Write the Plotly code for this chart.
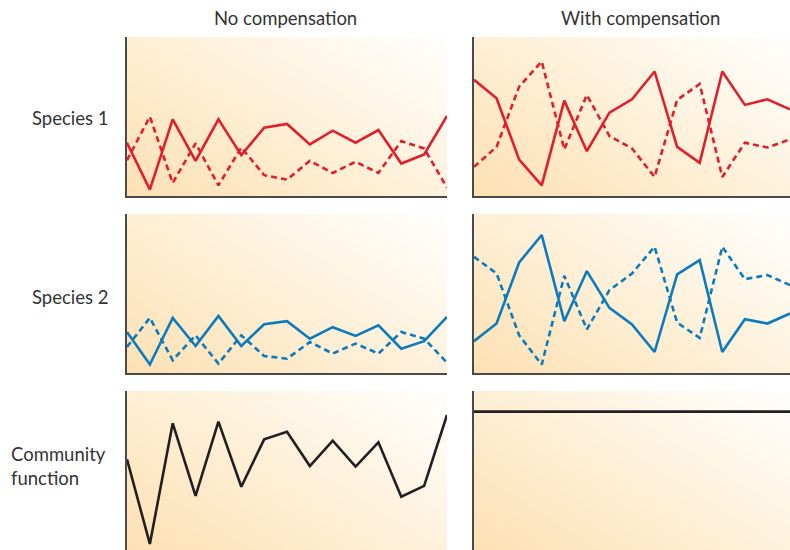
import numpy as np
import plotly.graph_objects as go

steps = list(range(15))

# Values on a 0-100 scale (0 = panel bottom, 100 = panel top)
sp1_nocomp_a = [33.5, 4.0, 48.2, 22.1, 48.2, 25.7, 42.9, 45.3, 32.4, 41.1, 33.5, 41.5, 20.4, 26.1, 50.3]
sp1_nocomp_b = [22.5, 49.9, 8.2, 33.1, 6.7, 30.5, 13.1, 10.3, 22.1, 14.5, 21.5, 14.5, 34.5, 29.9, 5.3]
sp1_comp_a = [73.1, 61.5, 22.9, 6.7, 60.0, 28.2, 52.4, 60.8, 78.3, 30.9, 20.8, 78.3, 57.3, 60.8, 54.5]
sp1_comp_b = [18.3, 30.9, 68.8, 84.6, 29.3, 63.6, 37.7, 29.9, 12.0, 60.4, 70.5, 12.0, 33.5, 30.5, 35.6]

sp2_nocomp_a = [25.8, 5.3, 34.7, 17.0, 35.9, 17.0, 30.7, 32.6, 21.6, 28.8, 23.3, 30.0, 15.3, 20.0, 35.3]
sp2_nocomp_b = [16.4, 34.7, 8.0, 23.7, 5.9, 23.7, 10.7, 9.0, 19.5, 12.2, 18.5, 12.2, 25.8, 21.6, 6.5]
sp2_comp_a = [20.0, 31.1, 69.5, 86.8, 32.6, 64.1, 41.0, 30.5, 13.2, 62.0, 71.0, 13.2, 33.8, 31.1, 37.4]
sp2_comp_b = [73.1, 62.6, 23.7, 5.3, 61.1, 27.5, 52.1, 62.6, 79.4, 31.7, 22.1, 79.4, 59.0, 61.6, 55.3]

community_nocomp = [57.0, 3.8, 79.7, 34.0, 80.7, 39.8, 69.6, 74.4, 52.8, 68.8, 52.4, 67.7, 33.5, 40.3, 84.9]
community_comp = [87.0] * 15

col_titles = ["No compensation", "With compensation"]
row_titles = ["Species 1", "Species 2", "Community<br>function"]

RED = "#E01F2C"
BLUE = "#0A7BBE"
BLACK = "#231F20"

W, H = 790, 550


def px(x):
    return x / W


def py(y):
    return 1 - y / H


xdom = [[px(127), px(447)], [px(474), px(790)]]
ydom = [[py(196), py(37)], [py(373), py(214)], [0.0, py(391)]]

panels = [
    (0, 0, [(sp1_nocomp_a, RED, "solid"), (sp1_nocomp_b, RED, "dash")]),
    (0, 1, [(sp1_comp_a, RED, "solid"), (sp1_comp_b, RED, "dash")]),
    (1, 0, [(sp2_nocomp_a, BLUE, "solid"), (sp2_nocomp_b, BLUE, "dash")]),
    (1, 1, [(sp2_comp_a, BLUE, "solid"), (sp2_comp_b, BLUE, "dash")]),
    (2, 0, [(community_nocomp, BLACK, "solid")]),
    (2, 1, [(community_comp, BLACK, "solid")]),
]

fig = go.Figure()
layout = {}

# background gradient grid
gx = np.linspace(-1, 15, 25)
gy = np.linspace(-8, 108, 25)
GX, GY = np.meshgrid((gx + 1) / 16, (gy + 8) / 116)
gz = (GX * 0.55 + GY * 0.45)

for k, (r, c, series) in enumerate(panels):
    idx = k + 1
    xa = "x" if idx == 1 else f"x{idx}"
    ya = "y" if idx == 1 else f"y{idx}"
    fig.add_trace(go.Heatmap(
        x=gx, y=gy, z=gz, xaxis=xa, yaxis=ya, zsmooth="best",
        colorscale=[[0, "#FDE0B2"], [0.5, "#FEF0D8"], [1, "#FFFFFF"]],
        zmin=0.05, zmax=0.95, showscale=False, hoverinfo="skip"))
    for vals, color, dash in series:
        fig.add_trace(go.Scatter(
            x=steps, y=vals, xaxis=xa, yaxis=ya, mode="lines",
            line=dict(color=color, width=2.6,
                      dash="6px,4px" if dash == "dash" else "solid"),
            showlegend=False, hoverinfo="skip"))
    xkey = "xaxis" if idx == 1 else f"xaxis{idx}"
    ykey = "yaxis" if idx == 1 else f"yaxis{idx}"
    layout[xkey] = dict(domain=xdom[c], range=[0, 14], anchor=ya,
                        showline=(r < 2), linecolor="#4A4A4A", linewidth=1.6,
                        showgrid=False, zeroline=False, showticklabels=False,
                        ticks="", fixedrange=True)
    layout[ykey] = dict(domain=ydom[r], range=[0, 100], anchor=xa,
                        showline=True, linecolor="#4A4A4A", linewidth=1.6,
                        showgrid=False, zeroline=False, showticklabels=False,
                        ticks="", fixedrange=True)

font = dict(family="Lato, 'Open Sans', sans-serif", size=18.5, color="#333333")
annotations = [
    dict(text=col_titles[0], x=px(285), y=py(18), xref="paper", yref="paper",
         showarrow=False, font=font, xanchor="center", yanchor="middle"),
    dict(text=col_titles[1], x=px(640), y=py(18), xref="paper", yref="paper",
         showarrow=False, font=font, xanchor="center", yanchor="middle"),
    dict(text=row_titles[0], x=px(70), y=py(118), xref="paper", yref="paper",
         showarrow=False, font=font, xanchor="center", yanchor="middle"),
    dict(text=row_titles[1], x=px(70), y=py(297), xref="paper", yref="paper",
         showarrow=False, font=font, xanchor="center", yanchor="middle"),
    dict(text=row_titles[2], x=px(9), y=py(466), xref="paper", yref="paper",
         showarrow=False, font=font, xanchor="left", yanchor="middle", align="left"),
]

fig.update_layout(width=W, height=H, margin=dict(l=0, r=0, t=0, b=0),
                  paper_bgcolor="white", plot_bgcolor="white",
                  annotations=annotations, showlegend=False,
                  hovermode=False, **layout)

fig.write_html(
    "out.html",
    config={"displayModeBar": False, "staticPlot": True},
    post_script="document.body.style.margin='0';"
                "document.body.style.overflow='hidden';",
)
